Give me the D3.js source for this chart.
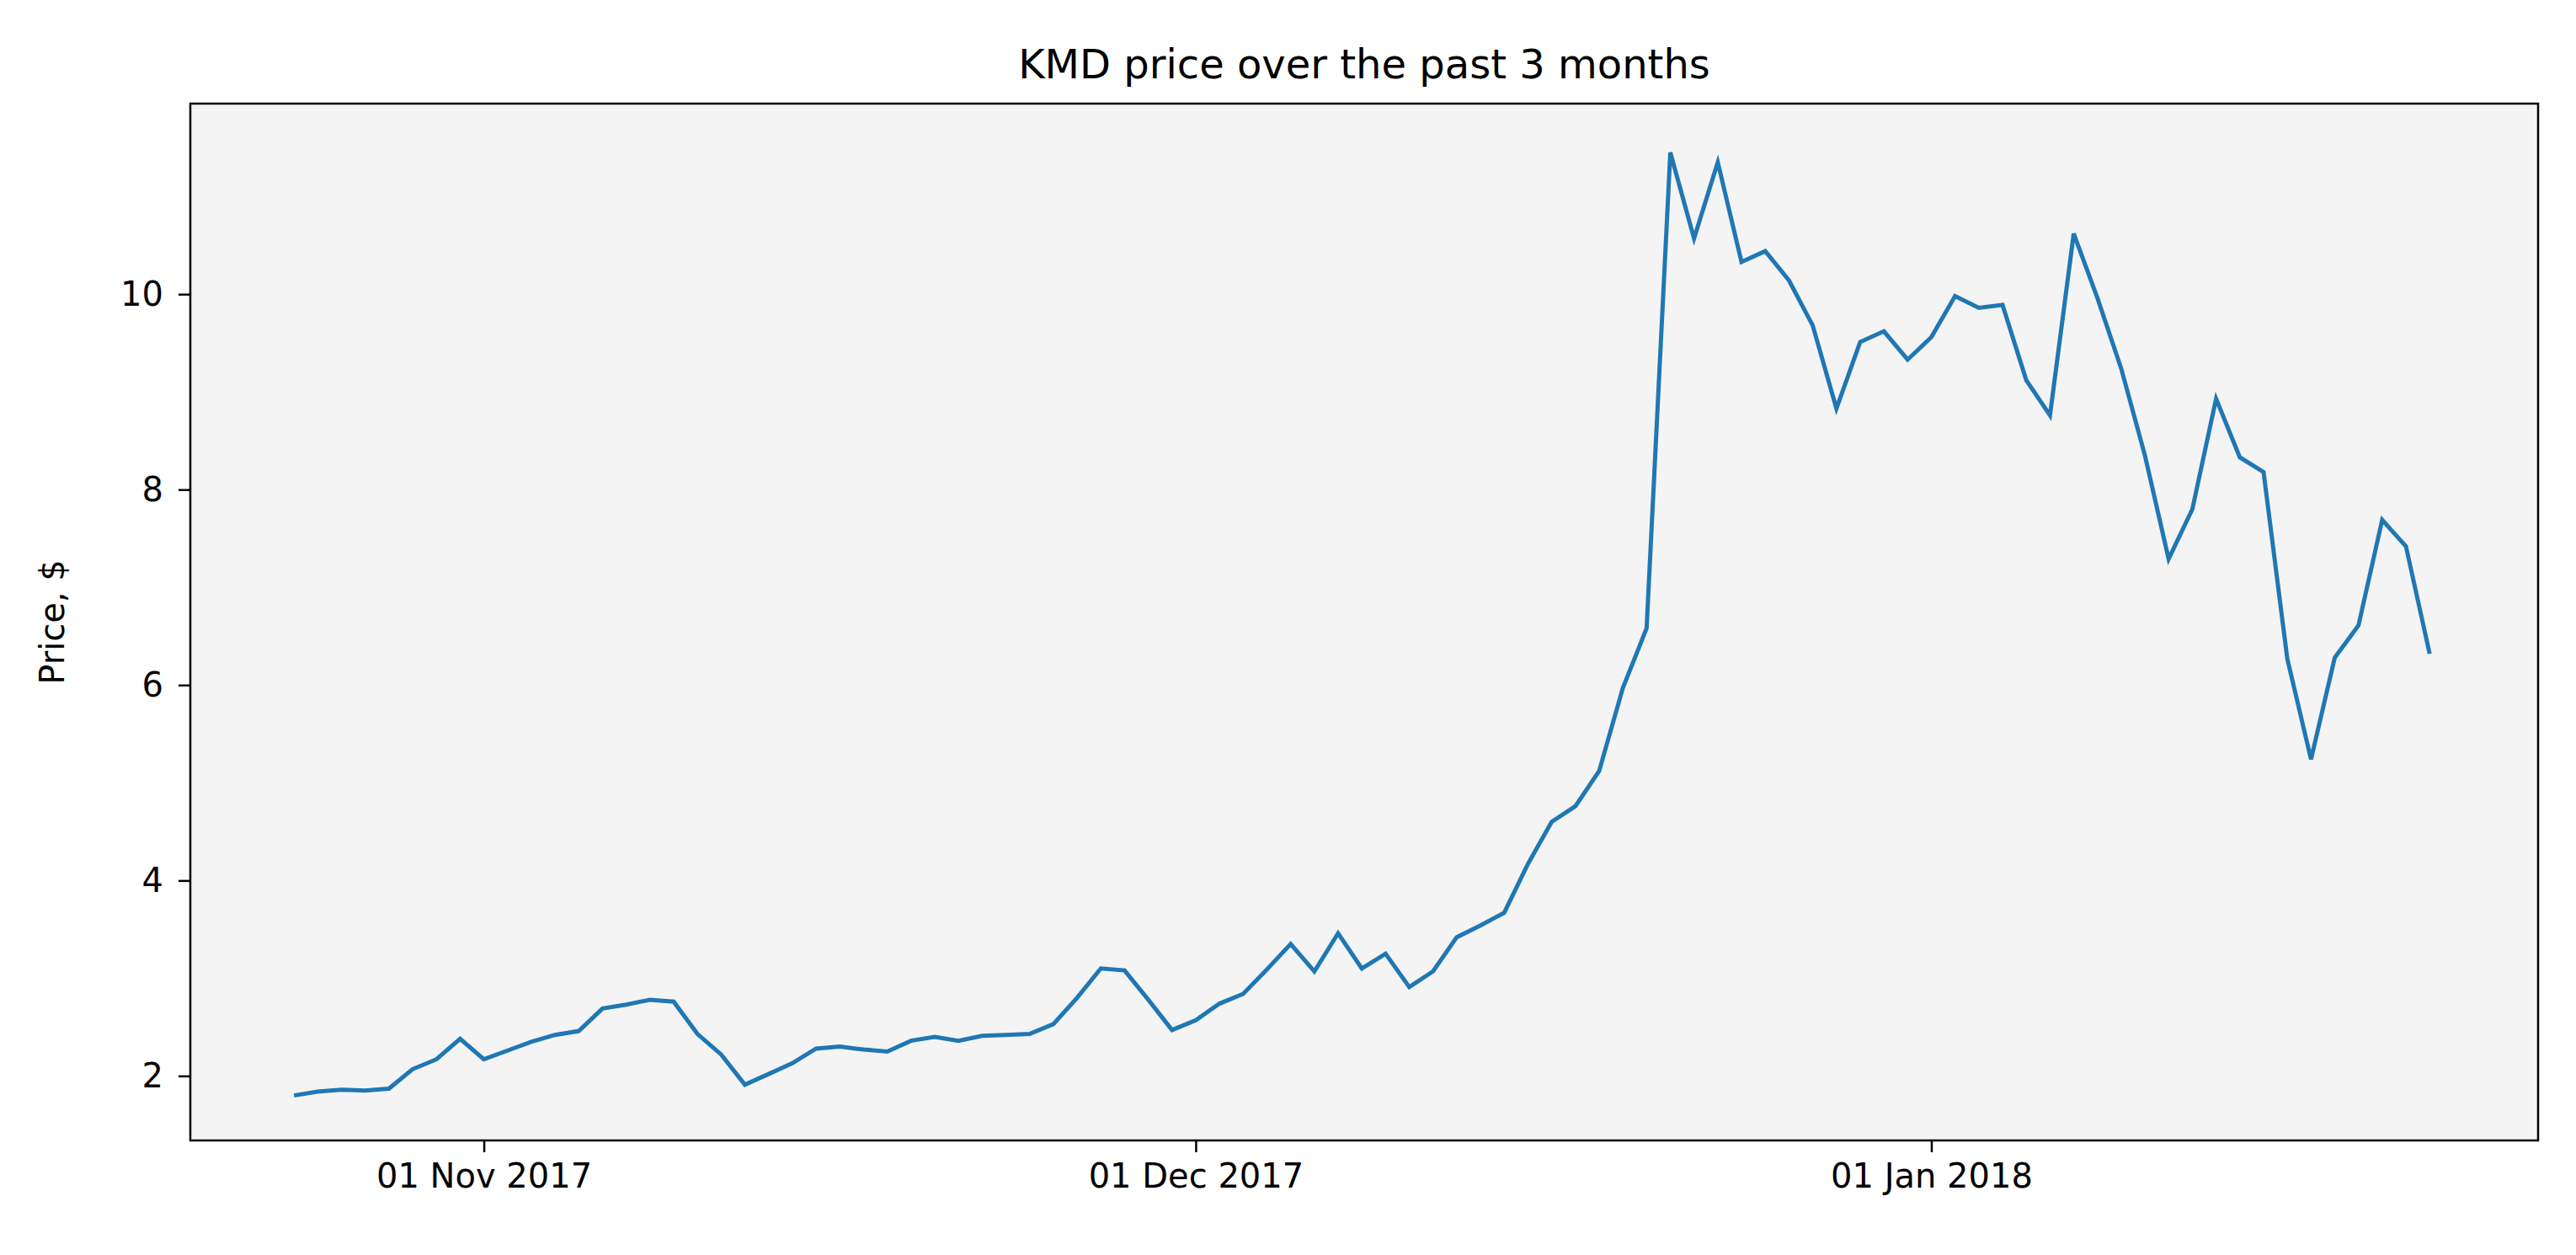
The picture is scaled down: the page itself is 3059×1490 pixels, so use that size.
<!DOCTYPE html>
<meta charset="utf-8">
<style>
  body { margin: 0; background: #fff; }
  text { font-family: "DejaVu Sans", sans-serif; }
</style>
<svg id="chart" width="3059" height="1490"></svg>
<script src="https://cdnjs.cloudflare.com/ajax/libs/d3/7.8.5/d3.min.js"></script>
<script>
  var startDate = '2017-10-24';
  var prices = [
    1.80, 1.84, 1.86, 1.85, 1.87, 2.07, 2.17, 2.38, 2.17, 2.26,
    2.35, 2.42, 2.46, 2.69, 2.73, 2.78, 2.76, 2.43, 2.22, 1.91,
    2.02, 2.13, 2.28, 2.30, 2.27, 2.25, 2.36, 2.40, 2.36, 2.41,
    2.42, 2.43, 2.53, 2.80, 3.10, 3.08, 2.78, 2.47, 2.57, 2.74,
    2.84, 3.09, 3.35, 3.07, 3.46, 3.10, 3.25, 2.91, 3.07, 3.42,
    3.54, 3.67, 4.17, 4.60, 4.76, 5.12, 5.97, 6.58, 11.45, 10.57,
    11.35, 10.33, 10.44, 10.14, 9.68, 8.83, 9.51, 9.62, 9.33, 9.56,
    9.98, 9.86, 9.89, 9.12, 8.76, 10.62, 9.96, 9.24, 8.35, 7.29,
    7.80, 8.93, 8.33, 8.18, 6.27, 5.24, 6.28, 6.61, 7.69, 7.42, 6.32
  ];
  var xTicks = ['2017-11-01', '2017-12-01', '2018-01-01'];
  var yTicks = [2, 4, 6, 8, 10];

  var parse = d3.utcParse('%Y-%m-%d');
  var day = 864e5;
  var t0 = parse(startDate);
  var data = prices.map(function(p, i) { return { date: new Date(+t0 + i * day), value: p }; });

  var m = { left: 226, right: 45, top: 123, bottom: 136 };
  var W = 3059, H = 1490;
  var svg = d3.select('#chart');

  var x = d3.scaleUtc()
    .domain([new Date(+t0 - 4.37 * day), new Date(+data[data.length - 1].date + 4.57 * day)])
    .range([m.left, W - m.right]);
  var y = d3.scaleLinear().domain([1.34, 11.95]).range([H - m.bottom, m.top]);

  svg.append('rect')
    .attr('x', m.left).attr('y', m.top)
    .attr('width', W - m.left - m.right).attr('height', H - m.top - m.bottom)
    .attr('fill', '#f4f4f4');

  var xAxis = svg.append('g')
    .attr('transform', 'translate(0,' + (H - m.bottom) + ')')
    .call(d3.axisBottom(x).tickValues(xTicks.map(parse)).tickFormat(d3.utcFormat('%d %b %Y'))
      .tickSize(14).tickPadding(14));
  var yAxis = svg.append('g')
    .attr('transform', 'translate(' + m.left + ',0)')
    .call(d3.axisLeft(y).tickValues(yTicks).tickSize(14).tickPadding(18));
  [xAxis, yAxis].forEach(function(g) {
    g.select('.domain').remove();
    g.selectAll('line').attr('stroke', '#000').attr('stroke-width', 2.5);
    g.selectAll('text').attr('font-size', 40).attr('fill', '#000')
      .attr('font-family', '"DejaVu Sans", sans-serif');
  });

  svg.append('path').datum(data)
    .attr('fill', 'none').attr('stroke', '#1f77b4').attr('stroke-width', 5)
    .attr('d', d3.line().x(function(d) { return x(d.date); }).y(function(d) { return y(d.value); }));

  svg.append('rect')
    .attr('x', m.left).attr('y', m.top)
    .attr('width', W - m.left - m.right).attr('height', H - m.top - m.bottom)
    .attr('fill', 'none').attr('stroke', '#000').attr('stroke-width', 2.5);

  svg.append('text')
    .attr('x', (m.left + W - m.right) / 2).attr('y', m.top - 30)
    .attr('text-anchor', 'middle').attr('font-size', 48)
    .text('KMD price over the past 3 months');

  svg.append('text')
    .attr('transform', 'translate(76,' + ((m.top + H - m.bottom) / 2) + ') rotate(-90)')
    .attr('text-anchor', 'middle').attr('font-size', 40)
    .text('Price, $');
</script>
